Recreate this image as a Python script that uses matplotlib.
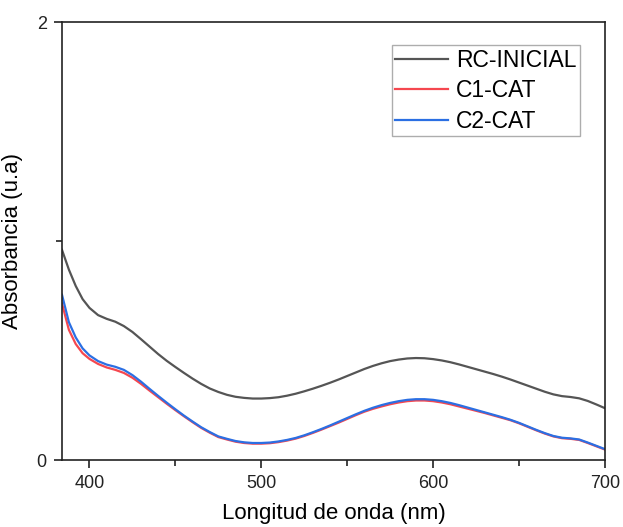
import matplotlib
matplotlib.use("Agg")
import matplotlib.pyplot as plt
from matplotlib.ticker import FixedLocator

plt.rcParams['font.family'] = ['Liberation Sans', 'DejaVu Sans']

wavelength = [384, 388, 392, 396, 400, 405, 410, 415, 420, 425, 430, 435, 440,
              445, 450, 455, 460, 465, 470, 475, 480, 485, 490, 495, 500, 505,
              510, 515, 520, 525, 530, 535, 540, 545, 550, 555, 560, 565, 570,
              575, 580, 585, 590, 595, 600, 605, 610, 615, 620, 625, 630, 635,
              640, 645, 650, 655, 660, 665, 670, 675, 680, 685, 690, 695, 700]

rc_inicial = [0.960, 0.870, 0.795, 0.735, 0.695, 0.662, 0.645, 0.632, 0.612,
              0.585, 0.552, 0.518, 0.484, 0.453, 0.425, 0.398, 0.372, 0.348,
              0.327, 0.311, 0.298, 0.289, 0.284, 0.281, 0.281, 0.283, 0.287,
              0.294, 0.303, 0.314, 0.326, 0.339, 0.353, 0.368, 0.384, 0.400,
              0.416, 0.430, 0.442, 0.452, 0.459, 0.464, 0.466, 0.465, 0.461,
              0.455, 0.447, 0.437, 0.426, 0.415, 0.404, 0.393, 0.381, 0.368,
              0.354, 0.340, 0.326, 0.312, 0.300, 0.292, 0.288, 0.282, 0.270,
              0.254, 0.237]

c1_cat = [0.715, 0.595, 0.530, 0.488, 0.462, 0.439, 0.423, 0.412, 0.398,
          0.376, 0.348, 0.317, 0.287, 0.257, 0.228, 0.200, 0.173, 0.147,
          0.125, 0.105, 0.094, 0.084, 0.078, 0.075, 0.075, 0.077, 0.082,
          0.089, 0.098, 0.110, 0.124, 0.139, 0.155, 0.171, 0.188, 0.205,
          0.221, 0.234, 0.245, 0.255, 0.263, 0.269, 0.272, 0.272, 0.269,
          0.263, 0.255, 0.245, 0.235, 0.225, 0.215, 0.204, 0.193, 0.182,
          0.168, 0.152, 0.136, 0.121, 0.108, 0.100, 0.097, 0.092, 0.078,
          0.063, 0.048]

c2_cat = [0.755, 0.630, 0.560, 0.510, 0.478, 0.452, 0.436, 0.426, 0.412,
          0.388, 0.358, 0.325, 0.293, 0.262, 0.232, 0.203, 0.176, 0.150,
          0.128, 0.108, 0.097, 0.087, 0.081, 0.078, 0.078, 0.080, 0.085,
          0.092, 0.101, 0.113, 0.127, 0.142, 0.158, 0.175, 0.192, 0.209,
          0.225, 0.239, 0.251, 0.261, 0.269, 0.275, 0.278, 0.278, 0.275,
          0.269, 0.261, 0.251, 0.240, 0.229, 0.218, 0.207, 0.196, 0.184,
          0.170, 0.154, 0.138, 0.123, 0.110, 0.102, 0.099, 0.094, 0.080,
          0.065, 0.050]

series = [("RC-INICIAL", rc_inicial, "#555555"),
          ("C1-CAT", c1_cat, "#f5474f"),
          ("C2-CAT", c2_cat, "#2b6fe3")]

fig = plt.figure(figsize=(6.23, 5.27), dpi=100)
ax = fig.add_axes([0.0995, 0.127, 0.8715, 0.831])

for name, values, color in series:
    ax.plot(wavelength, values, color=color, lw=1.6, label=name,
            solid_joinstyle='round')

ax.set_xlim(384, 700)
ax.set_ylim(0, 2)
ax.xaxis.set_major_locator(FixedLocator([400, 500, 600, 700]))
ax.xaxis.set_minor_locator(FixedLocator([450, 550, 650]))
ax.yaxis.set_major_locator(FixedLocator([0, 2]))
ax.yaxis.set_minor_locator(FixedLocator([1]))

for s in ax.spines.values():
    s.set_linewidth(1.2)
    s.set_color("#222222")
ax.tick_params(which='major', direction='out', length=6, width=1.2,
               labelsize=13, colors="#222222", pad=5)
ax.tick_params(which='minor', direction='out', length=4, width=1.2,
               colors="#222222")

ax.set_xlabel("Longitud de onda (nm)", fontsize=16, labelpad=8)
ax.set_ylabel("Absorbancia (u.a)", fontsize=16, labelpad=10)

leg = ax.legend(loc='upper right', bbox_to_anchor=(0.954, 0.947),
                borderaxespad=0, fontsize=16.5, frameon=True, fancybox=False,
                handlelength=2.3, handletextpad=0.35, labelspacing=0.33,
                borderpad=0.15)
leg.get_frame().set_edgecolor("#999999")
leg.get_frame().set_linewidth(1.0)

fig.savefig("out.png", dpi=100)
